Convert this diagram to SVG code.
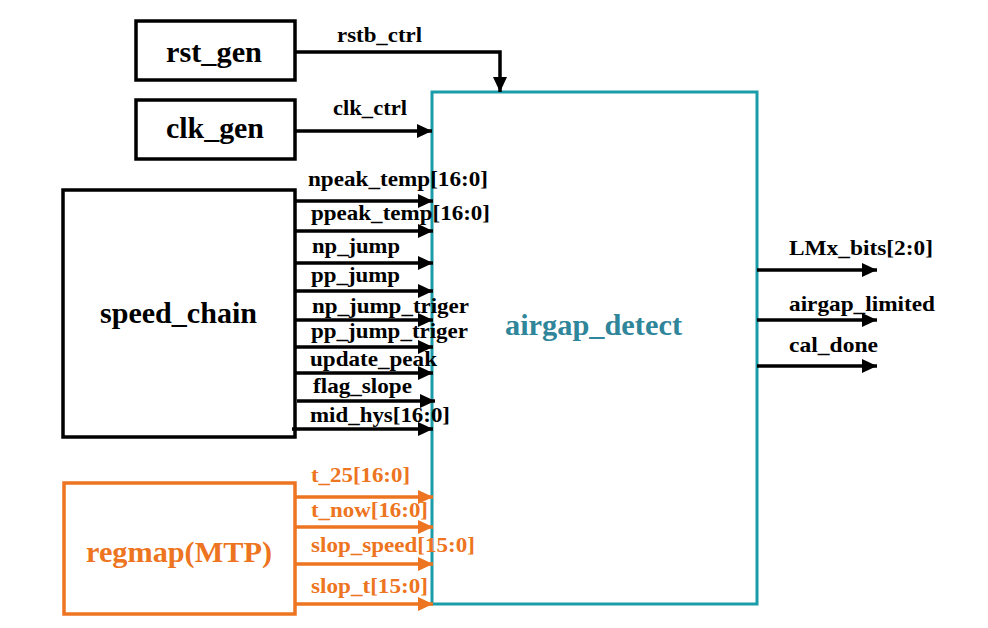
<svg xmlns="http://www.w3.org/2000/svg" width="988" height="628" viewBox="0 0 988 628">
<defs>
<style>
.t{font-family:"Liberation Serif","Times New Roman",serif;font-weight:bold}
.lbl{font-size:22px;fill:#000}
.olbl{font-size:22px;fill:#ED7420}
.ttl{font-size:29px;fill:#000}
.box{fill:#fff;stroke:#000;stroke-width:3.5}
.obox{fill:#fff;stroke:#ED7420;stroke-width:3.5}
.tbox{fill:#fff;stroke:#1B9CAA;stroke-width:3}
.w{fill:none;stroke:#000;stroke-width:3.5}
.ow{fill:none;stroke:#ED7420;stroke-width:3.5}
</style>
<marker id="ah" viewBox="0 0 15 14" refX="15" refY="7" markerWidth="15" markerHeight="14" markerUnits="userSpaceOnUse" orient="auto"><path d="M0,0 L15,7 L0,14 z" fill="#000"/></marker>
<marker id="oah" viewBox="0 0 15 14" refX="15" refY="7" markerWidth="15" markerHeight="14" markerUnits="userSpaceOnUse" orient="auto"><path d="M0,0 L15,7 L0,14 z" fill="#ED7420"/></marker>
</defs>
<rect width="988" height="628" fill="#fff"/>

<g id="airgap_detect">
<rect class="tbox" x="432" y="92" width="325" height="512"/>
<text class="t" x="505" y="335" font-size="29" fill="#2F8599" textLength="177" lengthAdjust="spacingAndGlyphs">airgap_detect</text>
</g>

<g id="rst_gen">
<rect class="box" x="136" y="21" width="159" height="59"/>
<text class="t ttl" x="166" y="62" textLength="96" lengthAdjust="spacingAndGlyphs">rst_gen</text>
</g>

<g id="clk_gen">
<rect class="box" x="136" y="100" width="159" height="59"/>
<text class="t ttl" x="166" y="138" textLength="98" lengthAdjust="spacingAndGlyphs">clk_gen</text>
</g>

<g id="speed_chain">
<rect class="box" x="63" y="190" width="232" height="247"/>
<text class="t ttl" x="100" y="323" textLength="157" lengthAdjust="spacingAndGlyphs">speed_chain</text>
</g>

<g id="regmap">
<rect class="obox" x="64" y="483" width="231" height="131"/>
<text class="t" x="86" y="562" font-size="29" fill="#ED7420" textLength="186" lengthAdjust="spacingAndGlyphs">regmap(MTP)</text>
</g>

<g id="connectors">
<path class="w" d="M295,52 H500 V92" marker-end="url(#ah)"/>
<path class="w" d="M295,131 H432" marker-end="url(#ah)"/>
<path class="w" d="M295,201 H433" marker-end="url(#ah)"/>
<path class="w" d="M295,231 H433" marker-end="url(#ah)"/>
<path class="w" d="M295,263 H433" marker-end="url(#ah)"/>
<path class="w" d="M295,291 H433" marker-end="url(#ah)"/>
<path class="w" d="M295,320 H433" marker-end="url(#ah)"/>
<path class="w" d="M295,347 H433" marker-end="url(#ah)"/>
<path class="w" d="M295,373 H433" marker-end="url(#ah)"/>
<path class="w" d="M297,401 H435" marker-end="url(#ah)"/>
<path class="w" d="M292,429 H433" marker-end="url(#ah)"/>
<path class="ow" d="M295,497 H433" marker-end="url(#oah)"/>
<path class="ow" d="M295,527 H433" marker-end="url(#oah)"/>
<path class="ow" d="M295,564 H433" marker-end="url(#oah)"/>
<path class="ow" d="M295,604 H433" marker-end="url(#oah)"/>
<path class="w" d="M757,270 H877" marker-end="url(#ah)"/>
<path class="w" d="M757,320 H877" marker-end="url(#ah)"/>
<path class="w" d="M757,366 H877" marker-end="url(#ah)"/>

<text class="t lbl" x="337" y="42" textLength="85" lengthAdjust="spacingAndGlyphs">rstb_ctrl</text>
<text class="t lbl" x="333" y="115" textLength="74" lengthAdjust="spacingAndGlyphs">clk_ctrl</text>
<text class="t lbl" x="308" y="186" textLength="180" lengthAdjust="spacingAndGlyphs">npeak_temp[16:0]</text>
<text class="t lbl" x="311" y="220" textLength="179" lengthAdjust="spacingAndGlyphs">ppeak_temp[16:0]</text>
<text class="t lbl" x="312" y="253" textLength="88" lengthAdjust="spacingAndGlyphs">np_jump</text>
<text class="t lbl" x="311" y="282" textLength="89" lengthAdjust="spacingAndGlyphs">pp_jump</text>
<text class="t lbl" x="312" y="313" textLength="157" lengthAdjust="spacingAndGlyphs">np_jump_triger</text>
<text class="t lbl" x="311" y="338" textLength="157" lengthAdjust="spacingAndGlyphs">pp_jump_triger</text>
<text class="t lbl" x="310" y="366" textLength="127" lengthAdjust="spacingAndGlyphs">update_peak</text>
<text class="t lbl" x="313" y="393" textLength="99" lengthAdjust="spacingAndGlyphs">flag_slope</text>
<text class="t lbl" x="310" y="422" textLength="140" lengthAdjust="spacingAndGlyphs">mid_hys[16:0]</text>
<text class="t olbl" x="311" y="482" textLength="99" lengthAdjust="spacingAndGlyphs">t_25[16:0]</text>
<text class="t olbl" x="311" y="517" textLength="117" lengthAdjust="spacingAndGlyphs">t_now[16:0]</text>
<text class="t olbl" x="311" y="552" textLength="164" lengthAdjust="spacingAndGlyphs">slop_speed[15:0]</text>
<text class="t olbl" x="311" y="593" textLength="117" lengthAdjust="spacingAndGlyphs">slop_t[15:0]</text>
<text class="t lbl" x="789" y="255" textLength="144" lengthAdjust="spacingAndGlyphs">LMx_bits[2:0]</text>
<text class="t lbl" x="789" y="311" textLength="146" lengthAdjust="spacingAndGlyphs">airgap_limited</text>
<text class="t lbl" x="789" y="352" textLength="89" lengthAdjust="spacingAndGlyphs">cal_done</text>
</g>
</svg>
